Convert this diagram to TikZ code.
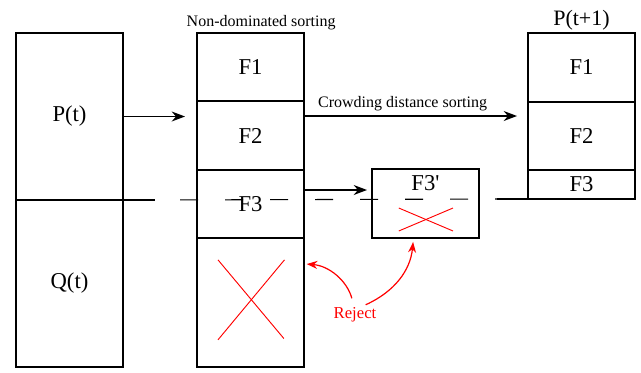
\documentclass[tikz,border=0pt]{standalone}
\usepackage{fontspec}
\setmainfont{Liberation Serif}
\newfontfamily\timesfont{Liberation Serif}
\usepackage{tikz}
\usetikzlibrary{positioning, arrows.meta}

\begin{document}
\begin{tikzpicture}[x=0.75pt, y=-0.75pt,
  box/.style={rectangle, draw=black, line width=1pt, minimum width=80.25pt, inner sep=0pt, outer sep=0pt, font=\timesfont\fontsize{17}{18}\selectfont},
  txtlbl/.style={inner sep=0pt, font=\timesfont\fontsize{12}{14}\selectfont},
  arr/.style={-{Stealth[length=10pt, width=7.5pt]}, line width=1pt},
  rejarr/.style={-{Stealth[length=8pt, width=6pt]}, red, line width=0.9pt},
  cross/.style={red, line width=0.7pt}]
%

%help grid
%\draw[help lines] (0,0) grid[step=20] (641,372);

\useasboundingbox (0,0) rectangle (641,372);

%%% P(t), Q(t)
\node [box, minimum height=125.25pt, anchor=north] (pt) at (69.5,33) {P(t)};
\node [box, minimum height=125.25pt, below=0pt of pt] (qt) {Q(t)};

%%% NON-DOMINATED SORTING
\node [box, minimum height=51pt, anchor=north] (f1) at (250.5,33) {F1};
\node [box, minimum height=51.75pt, below=0pt of f1] (f2) {F2};
\node [box, minimum height=51pt, below=0pt of f2] (f3) {F3};
\node [box, minimum height=96.75pt, below=0pt of f3] (rest) {};
\node [txtlbl, above=2pt of f1, xshift=8pt] (nds) {Non-dominated sorting};

%%% P(t+1)
\node [box, minimum height=51.75pt, anchor=north] (pf1) at (581.5,33) {F1};
\node [box, minimum height=51pt, below=0pt of pf1] (pf2) {F2};
\node [box, minimum height=21.75pt, below=0pt of pf2] (pf3) {F3};
\node [txtlbl, font=\timesfont\fontsize{16.5}{18}\selectfont, above=2pt of pf1] (ptnext) {P(t+1)};

%%% F3'
\node [box, minimum height=51.75pt, anchor=north] (f3p) at (425.5,169) {};
\node [box, draw=none, anchor=north] (f3plbl) at ([yshift=-4.5pt]f3p.north) {F3\textquotesingle};

%%% REJECT
\node [txtlbl, font=\timesfont\fontsize{12.5}{14}\selectfont, text=red, inner sep=2pt] (rej) at (355,315) {Reject};

%%% crosses
\draw [cross] ([shift={(-24.4pt,32pt)}]rest.center) -- ([shift={(25pt,-27pt)}]rest.center);
\draw [cross] ([shift={(25.5pt,32pt)}]rest.center) -- ([shift={(-24.4pt,-28pt)}]rest.center);
\draw [cross] ([shift={(-20pt,-3.4pt)}]f3p.center) -- ([shift={(20.6pt,-20.6pt)}]f3p.center);
\draw [cross] ([shift={(-20pt,-20.6pt)}]f3p.center) -- ([shift={(20.6pt,-3.4pt)}]f3p.center);

%%% connections, arrows
\coordinate (cds) at ([yshift=-11.25pt]f2.north east);
\coordinate (f3a) at ([yshift=10.5pt]f3.east);
\coordinate (ljoin) at ([xshift=24pt]pt.south east);
\coordinate (rjoin) at ([xshift=-23.25pt]pf3.south west);
\coordinate (rtip) at ([yshift=29pt]rest.east);

\draw [arr, shorten >=9pt] (pt.east) -- (pt.east -| f1.west);
\draw [arr, shorten >=8.25pt] (cds) -- (cds -| pf2.west) node [txtlbl, pos=0.44, above=3pt] (cdslbl) {Crowding distance sorting};
\draw [arr, shorten >=3.75pt] (f3a) -- (f3a -| f3p.west);

\draw [line width=0.8pt] (pt.south east) -- (ljoin);
\draw [line width=0.8pt, dash pattern=on 13.5pt off 20.25pt, dash phase=15pt] (ljoin) -- (rjoin);
\draw [line width=0.8pt] (rjoin) -- (pf3.south west);

\draw [rejarr, shorten <=5pt, shorten >=2pt] ([xshift=-1pt]rej.north) to [bend right=35] (rtip);
\draw [rejarr, shorten >=3pt] ([xshift=8pt]rej.north) to [bend right=30] ([xshift=-9pt]f3p.south);

\end{tikzpicture}
\end{document}
